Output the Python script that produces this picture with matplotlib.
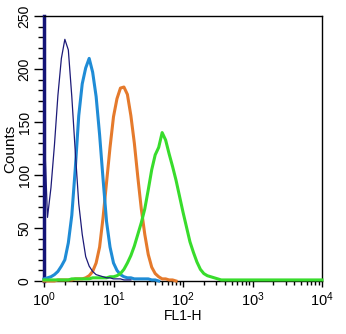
import numpy as np
import matplotlib
matplotlib.use("Agg")
import matplotlib.pyplot as plt
from matplotlib.ticker import MultipleLocator, LogLocator, NullFormatter

plt.rcParams['font.family'] = ['Liberation Sans', 'DejaVu Sans']

# FL1-H channel grid: 20 channels per decade, 10^0 .. 10^4
fl1_h = 10 ** (np.arange(81) * 0.05)

# counts per channel for each sample (each list starts at channel 10^0)
navy_counts = [150, 60, 88, 128, 175, 210, 228, 218, 174, 122,
               73, 44, 23, 14, 9, 6, 5, 4, 3, 3,
               2, 2, 2, 1, 1, 1]
blue_counts = [2, 3, 4, 6, 9, 14, 20, 36, 62, 106,
               156, 186, 201, 210, 197, 174, 138, 96, 56, 32,
               17, 10, 6, 4, 3, 3, 2, 2, 2, 2,
               2, 1, 1, 0]
orange_counts = [0, 0, 0, 0, 1, 1, 1, 1, 1, 2,
                 2, 2, 3, 5, 9, 17, 32, 60, 93, 126,
                 155, 172, 182, 183, 176, 156, 130, 98, 68, 44,
                 25, 13, 7, 4, 2, 2, 1, 1, 0]
green_counts = [1, 1, 1, 1, 1, 1, 1, 1, 2, 2,
                2, 2, 2, 2, 3, 3, 3, 3, 3, 4,
                4, 5, 7, 11, 17, 24, 33, 44, 55, 68,
                86, 105, 119, 126, 140, 133, 120, 108, 95, 80,
                65, 51, 37, 27, 18, 11, 7, 5, 4, 3,
                2, 1, 1, 1, 1, 1, 1, 1, 1, 1,
                1, 1, 1, 1, 1, 1, 1, 1, 1, 1,
                1, 1, 1, 1, 1, 1, 1, 1, 1, 1, 1]

fig = plt.figure(figsize=(3.46, 3.34), dpi=100)
ax = fig.add_axes([44 / 346, 53 / 334, 278 / 346, 265 / 334])

ax.plot(fl1_h[:len(orange_counts)], orange_counts, color='#e57a2c', lw=2.2, clip_on=False, zorder=3)
ax.plot(fl1_h[:len(blue_counts)], blue_counts, color='#1f8cd6', lw=2.2, clip_on=False, zorder=3)
ax.plot(fl1_h[:len(green_counts)], green_counts, color='#38dc2c', lw=2.2, clip_on=False, zorder=3)
ax.plot(fl1_h[:len(navy_counts)], navy_counts, color='#1c1a78', lw=0.9, clip_on=False, zorder=4)

ax.set_xscale('log')
ax.set_xlim(1, 1e4)
ax.set_ylim(0, 250)

ax.yaxis.set_major_locator(MultipleLocator(50))
ax.yaxis.set_minor_locator(MultipleLocator(10))
ax.xaxis.set_major_locator(LogLocator(base=10, numticks=10))
ax.xaxis.set_minor_locator(LogLocator(base=10, subs=np.arange(2, 10), numticks=20))
ax.xaxis.set_minor_formatter(NullFormatter())

ax.tick_params(axis='both', which='both', direction='out', color='black', width=1.0)
ax.tick_params(axis='y', which='major', length=7, pad=2, labelsize=10)
ax.tick_params(axis='y', which='minor', length=4.5)
ax.tick_params(axis='x', which='major', length=4, pad=3, labelsize=10.5)
ax.tick_params(axis='x', which='minor', length=3)

for lbl in ax.get_yticklabels():
    lbl.set_rotation(90)
    lbl.set_va('center')

for side in ['top', 'right', 'bottom']:
    ax.spines[side].set_color('black')
    ax.spines[side].set_linewidth(1.0)
ax.spines['left'].set_color('#141478')
ax.spines['left'].set_linewidth(2.5)

ax.set_xlabel('FL1-H', fontsize=10, labelpad=0)
ax.set_ylabel('Counts', fontsize=11, labelpad=0)

fig.savefig('out.png', dpi=100)
